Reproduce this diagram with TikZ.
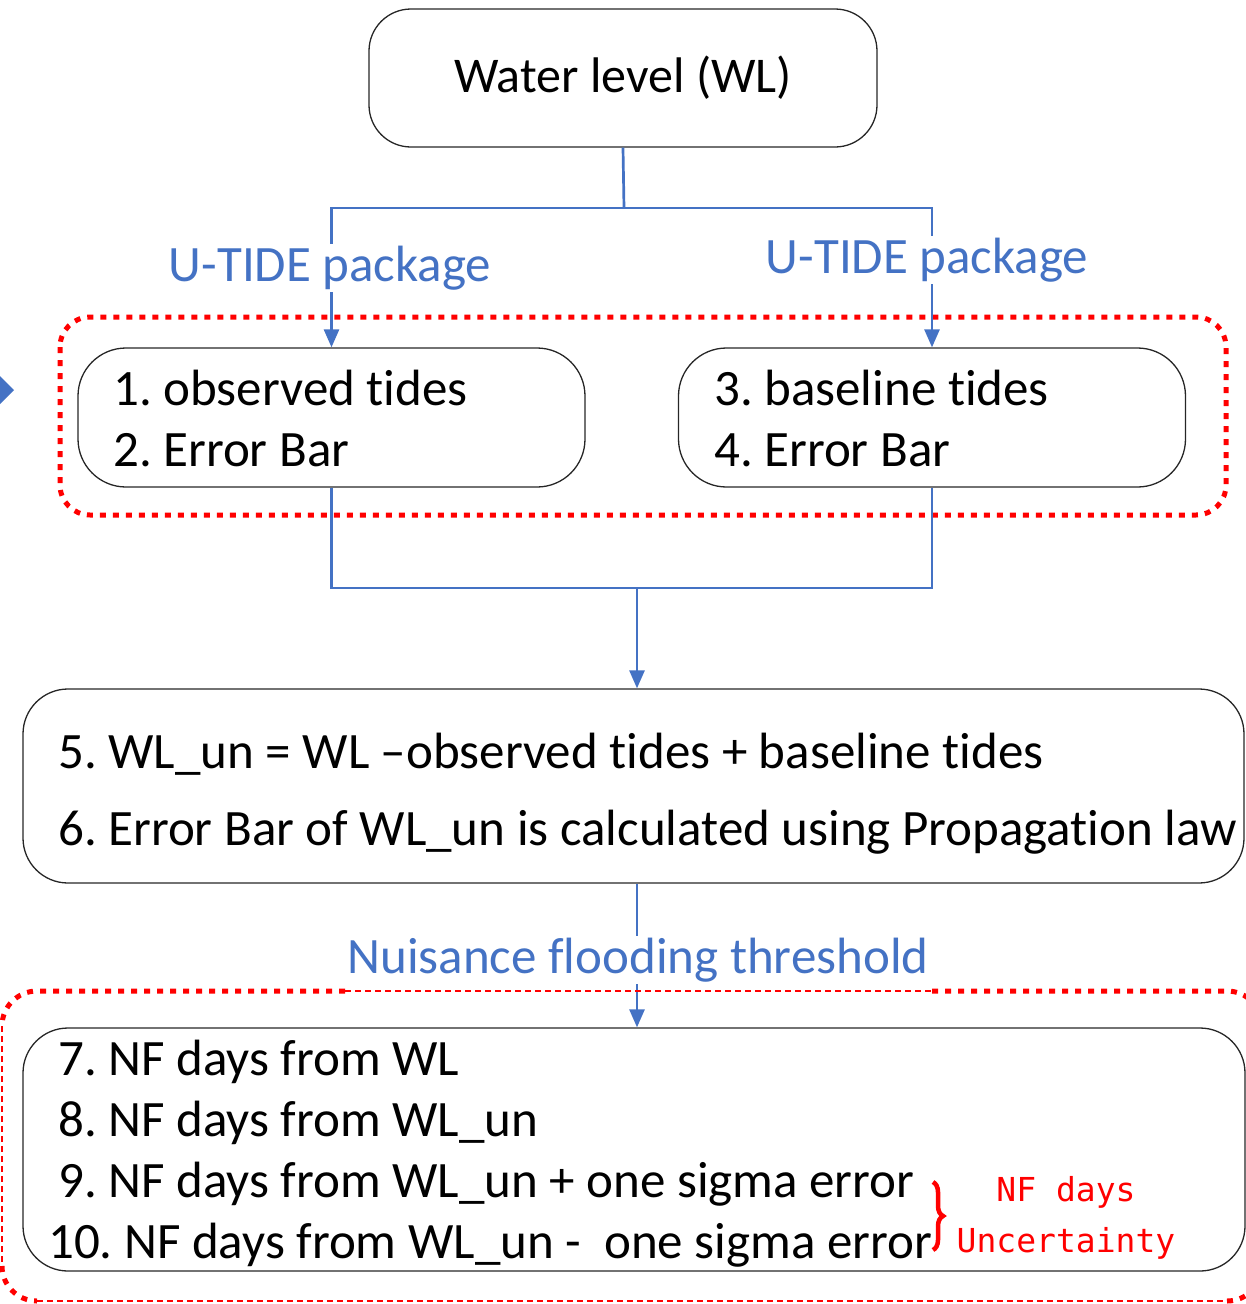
\documentclass[tikz,border=0pt]{standalone}
\usepackage{fontspec}
\setmainfont{Carlito}[Ligatures=NoCommon]
\newfontfamily\nfmono{DejaVu Sans Mono}
\usetikzlibrary{arrows.meta,decorations.pathreplacing}
\definecolor{wblue}{HTML}{4472C4}
\definecolor{boxline}{HTML}{262626}
\newcommand{\mainfs}{\fontsize{51}{61}\selectfont}
\newcommand{\wlfs}{\fontsize{50}{61}\selectfont}
\begin{document}
\frenchspacing
\begin{tikzpicture}[x=1pt,y=-1pt,
  rbox/.style={draw=boxline, line width=1.3pt, rounded corners=#1, inner sep=0pt},
  txt/.style={inner sep=0pt, align=left, anchor=west, font=\mainfs},
  conn/.style={wblue, line width=2.7pt},
  arr/.style={conn, -{Triangle[length=18pt,width=15pt]}},
  lbl/.style={fill=white, text=wblue, inner sep=2pt, font=\mainfs},
  reddot/.style={red, line width=5pt, dash pattern=on 6pt off 7pt},
  reddash/.style={red, line width=2pt, dash pattern=on 6pt off 4pt}]
\useasboundingbox (0,0) rectangle (1246,1304);

% left partial arrow
\fill[wblue] (-8,368) -- (14,390) -- (-8,412) -- cycle;

% boxes
\node[rbox=42, minimum width=508pt, minimum height=138pt, font=\wlfs] (wl) at (623,78) {Water level (WL)};
\node[rbox=48, minimum width=507pt, minimum height=139pt] (b1) at (331.5,417.5) {};
\node[txt] (t1) at (113,418.5) {1. observed tides\\2. Error Bar};
\node[rbox=48, minimum width=507pt, minimum height=139pt] (b3) at (932,417.5) {};
\node[txt] (t3) at (714,418.5) {3. baseline tides\\4. Error Bar};
\node[rbox=45, minimum width=1221pt, minimum height=194pt] (b5) at (633.5,786) {};
\node[txt] (t5) at (58,794) {5. WL\_un = WL –observed tides + baseline tides\\[16pt]6. Error Bar of WL\_un is calculated using Propagation law};
\node[rbox=45, minimum width=1222pt, minimum height=243pt] (b7) at (634,1149.5) {};
\node[txt] (t7) at (58,1153.5) {7. NF days from WL\\8. NF days from WL\_un\\9. NF days from WL\_un + one sigma error\\\hspace*{-10pt}10. NF days from WL\_un -\ \ one sigma error};

% upper red dotted group
\draw[reddot, rounded corners=30pt] (60,317) rectangle (1226,515);

% connectors
\coordinate (split) at (624,208);
\draw[conn] (wl.south) -- (split);
\draw[arr] (split) -| (b1.north);
\draw[arr] (split) -| (b3.north);
\node[lbl] (lu1) at (330,268) {U-TIDE package};
\node[lbl] (lu2) at (927,260) {U-TIDE package};

\coordinate (merge) at (637,588);
\draw[conn] (b1.south) |- (merge);
\draw[conn] (b3.south) |- (merge);
\draw[arr] (merge) -- (merge |- b5.north);
\draw[arr] (b5.south -| merge) -- (b7.north -| merge);
\node[lbl] (nft) at (638,960) {Nuisance flooding threshold};

% lower red group (mixed dotted / dashed)
\draw[reddash] (345,991) -- (932,991);
\draw[reddash] (2,1026) -- (2,1266);
\draw[reddash] (37,1301) -- (1227,1301);
\draw[reddot, rounded corners=35pt] (345,991) -- (2,991) -- (2,1026);
\draw[reddot, rounded corners=35pt] (2,1266) -- (2,1301) -- (37,1301);
\draw[reddot, rounded corners=35pt] (1227,1301) -- (1262,1301) -- (1262,1266);
\draw[reddot, rounded corners=35pt] (932,991) -- (1262,991) -- (1262,1026);

% brace and NF note
\coordinate (brtop) at (933,1182);
\coordinate (brbot) at (933,1250);
\draw[red, line width=4.5pt, decorate, decoration={brace, amplitude=10pt}] (brtop) -- (brbot);
\node[text=red, font=\nfmono\fontsize{33}{51}\selectfont, align=center] (nfu) at (1066,1218) {NF days\\Uncertainty};
\end{tikzpicture}
\end{document}
